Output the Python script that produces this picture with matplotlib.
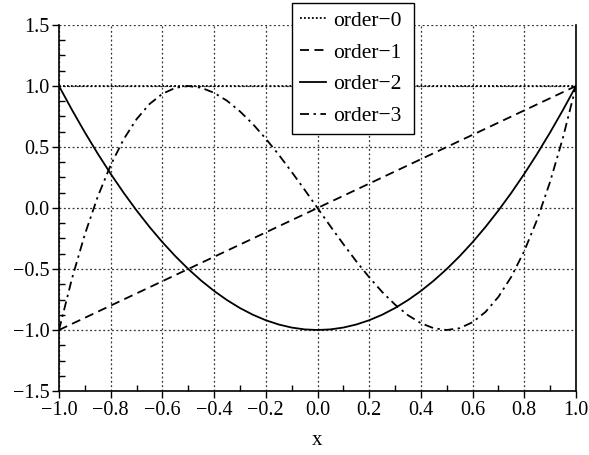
import matplotlib
matplotlib.use("Agg")
import matplotlib.pyplot as plt
from matplotlib.ticker import MultipleLocator

x = [-1.0, -0.95, -0.9, -0.85, -0.8, -0.75, -0.7, -0.65, -0.6, -0.55, -0.5,
     -0.45, -0.4, -0.35, -0.3, -0.25, -0.2, -0.15, -0.1, -0.05, 0.0,
     0.05, 0.1, 0.15, 0.2, 0.25, 0.3, 0.35, 0.4, 0.45, 0.5,
     0.55, 0.6, 0.65, 0.7, 0.75, 0.8, 0.85, 0.9, 0.95, 1.0]

order0 = [1.0] * 41
order1 = list(x)
order2 = [1.0, 0.805, 0.62, 0.445, 0.28, 0.125, -0.02, -0.155, -0.28, -0.395, -0.5,
          -0.595, -0.68, -0.755, -0.82, -0.875, -0.92, -0.955, -0.98, -0.995, -1.0,
          -0.995, -0.98, -0.955, -0.92, -0.875, -0.82, -0.755, -0.68, -0.595, -0.5,
          -0.395, -0.28, -0.155, -0.02, 0.125, 0.28, 0.445, 0.62, 0.805, 1.0]
order3 = [-1.0, -0.58, -0.216, 0.094, 0.352, 0.563, 0.728, 0.852, 0.936, 0.985, 1.0,
          0.986, 0.944, 0.879, 0.792, 0.688, 0.568, 0.437, 0.296, 0.15, 0.0,
          -0.15, -0.296, -0.437, -0.568, -0.688, -0.792, -0.879, -0.944, -0.986, -1.0,
          -0.985, -0.936, -0.852, -0.728, -0.563, -0.352, -0.094, 0.216, 0.58, 1.0]

labels = ["order\u22120", "order\u22121", "order\u22122", "order\u22123"]

plt.rcParams['font.family'] = 'serif'
plt.rcParams['font.serif'] = ['Liberation Serif', 'DejaVu Serif']
plt.rcParams['font.size'] = 14

fig = plt.figure(figsize=(5.89, 4.55), dpi=100)
ax = fig.add_axes([59/589, 1-391/455, (576-59)/589, (391-25)/455])

lw = 1.3
ax.plot(x, order0, color='black', lw=lw, linestyle=(0, (1, 1.2)), label=labels[0])
ax.plot(x, order1, color='black', lw=lw, linestyle=(0, (5, 3)), label=labels[1])
ax.plot(x, order2, color='black', lw=lw, linestyle='-', label=labels[2])
ax.plot(x, order3, color='black', lw=lw, linestyle=(0, (5, 2.5, 1.3, 2.5)), label=labels[3])

ax.set_xlim(-1, 1)
ax.set_ylim(-1.5, 1.5)
ax.xaxis.set_major_locator(MultipleLocator(0.2))
ax.xaxis.set_minor_locator(MultipleLocator(0.1))
ax.yaxis.set_major_locator(MultipleLocator(0.5))
ax.yaxis.set_minor_locator(MultipleLocator(0.125))
ax.xaxis.set_major_formatter(plt.FuncFormatter(lambda v, p: f"{v:.1f}".replace("-", "\u2212")))
ax.yaxis.set_major_formatter(plt.FuncFormatter(lambda v, p: f"{v:.1f}".replace("-", "\u2212")))

ax.tick_params(which='major', direction='out', length=5, width=1, pad=2, labelsize=14.5)
ax.tick_params(which='minor', direction='in', length=4, width=1)
ax.grid(True, which='major', color='#333333', linestyle=(0, (1.5, 2)), linewidth=0.9)
ax.set_axisbelow(True)

ax.spines['top'].set_visible(False)
for s in ['left', 'bottom', 'right']:
    ax.spines[s].set_linewidth(1.2)

ax.set_xlabel("x", fontsize=15, labelpad=8)

leg = ax.legend(loc='upper left',
                bbox_to_anchor=(292/589, 1 - 3/455 - 0.01, (414-292)/589, 0.01),
                bbox_transform=fig.transFigure, mode='expand',
                frameon=True, fancybox=False, edgecolor='black', framealpha=1,
                handlelength=1.25, handletextpad=0.3, labelspacing=0.55, borderpad=0.35,
                borderaxespad=0, fontsize=15.5)
leg.get_frame().set_linewidth(1.0)

fig.savefig("out.png", dpi=100)
